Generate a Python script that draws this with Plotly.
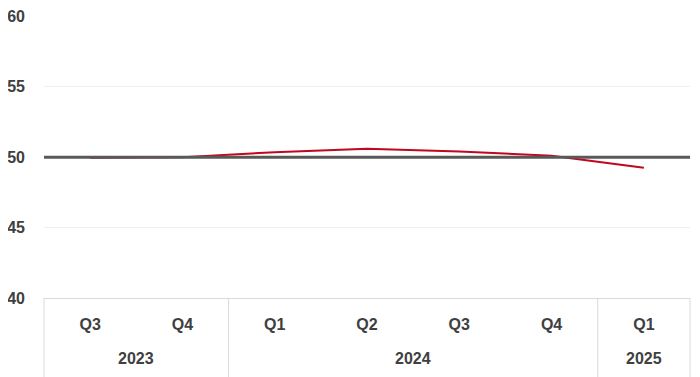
import plotly.graph_objects as go

years = ["2023", "2023", "2024", "2024", "2024", "2024", "2025"]
quarters = ["Q3", "Q4", "Q1", "Q2", "Q3", "Q4", "Q1"]
values = [49.95, 50.0, 50.35, 50.6, 50.4, 50.1, 49.25]
threshold = 50
y_ticks = [40, 45, 50, 55, 60]

text_color = "#404040"
line_grey = "#D9D9D9"
font_family = "Liberation Sans, Arial, sans-serif"

idx = list(range(len(quarters)))
x_range = [-0.5, len(quarters) - 0.5]

fig = go.Figure()
fig.add_trace(go.Scatter(
    x=idx, y=values, mode="lines",
    line=dict(color="#C0071E", width=2), hoverinfo="skip", showlegend=False,
))
fig.add_hline(y=threshold, line=dict(color="#595959", width=3), layer="above")

# year groups: labels and dividers
groups = []
for i, yr in enumerate(years):
    if not groups or groups[-1][0] != yr:
        groups.append([yr, i, i])
    else:
        groups[-1][2] = i

def xfrac(v):
    return (v - x_range[0]) / (x_range[1] - x_range[0])

bounds = sorted({g[1] - 0.5 for g in groups} | {groups[-1][2] + 0.5})
for b in bounds:
    fig.add_shape(type="line", xref="x domain", yref="paper",
                  x0=xfrac(b), x1=xfrac(b), y0=0, y1=-0.35,
                  line=dict(color=line_grey, width=1))
for yr, a, b in groups:
    fig.add_annotation(x=xfrac((a + b) / 2), xref="x domain", y=-0.213, yref="paper",
                       text=yr, showarrow=False, yanchor="middle", xanchor="center",
                       font=dict(family=font_family, size=16, color=text_color, weight="bold"))

fig.update_layout(
    width=692, height=369,
    margin=dict(l=36, r=10, t=8, b=79),
    paper_bgcolor="white", plot_bgcolor="white",
    font=dict(family=font_family, size=16, color=text_color),
    showlegend=False,
)
fig.update_xaxes(
    range=x_range, tickvals=idx, ticktext=quarters,
    showgrid=False, zeroline=False, automargin=False,
    showline=True, linecolor=line_grey, linewidth=1,
    ticks="", ticklabelstandoff=12,
    tickfont=dict(family=font_family, size=16, color=text_color, weight="bold"),
)
fig.update_yaxes(
    range=[40, 60.02], tickvals=y_ticks, automargin=False,
    showgrid=True, gridcolor="#EFEFEF", gridwidth=1,
    zeroline=False, showline=False, ticks="",
    ticklabelstandoff=18, ticklabeloverflow="allow",
    tickfont=dict(family=font_family, size=16, color=text_color, weight="bold"),
)

fig.write_html("out.html")
